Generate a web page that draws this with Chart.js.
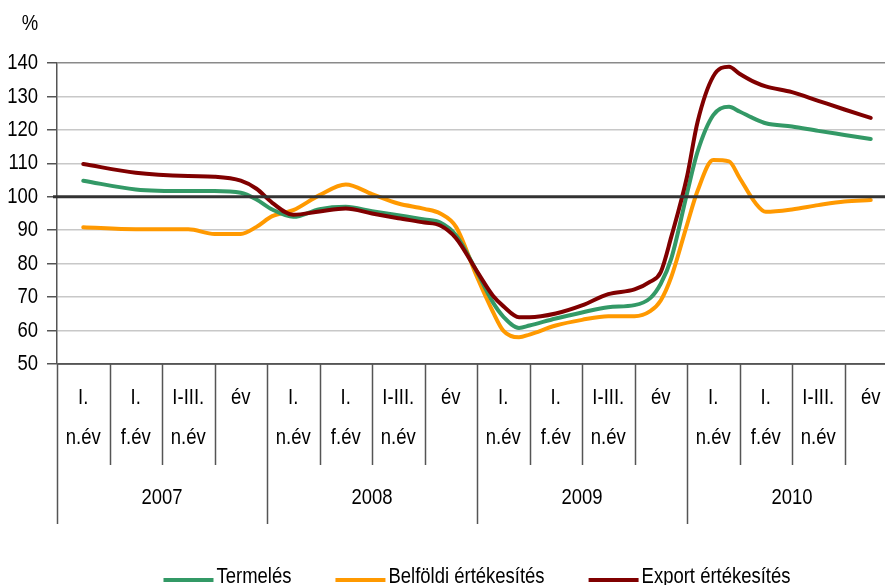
<!DOCTYPE html>
<html lang="hu">
<head>
<meta charset="UTF-8">
<title>Termelés és értékesítés</title>
<script src="https://cdn.jsdelivr.net/npm/chart.js"></script>
<style>
    html, body { margin: 0; padding: 0; background: #fff; overflow: hidden; }
</style>
</head>
<body>
<canvas id="chart" width="900" height="585"></canvas>
<script>
// position on the period axis: 0 = start of 2007 "I. n.év", 16 = end of 2010 "év"
const periods = [0.5, 1.5, 2.5, 3.0, 3.5, 3.8, 4.1, 4.5, 5.0, 5.5, 6.0, 6.5, 7.0, 7.3, 7.6,
    8.0, 8.3, 8.5, 8.8, 9.0, 9.5, 10.0, 10.5, 11.0, 11.3, 11.5, 11.7, 12.0, 12.2, 12.5,
    12.8, 13.0, 13.3, 13.5, 14.0, 14.5, 15.0, 15.5];

const termeles = [104.8, 102.2, 101.7, 101.7, 101.2, 99.2, 96.2, 94.0, 96.3, 97.0, 95.7, 94.5, 93.2, 92.3, 88.5,
    77.5, 68.5, 64.2, 60.8, 61.5, 63.6, 65.4, 67.0, 67.6, 69.7, 74.0, 81.5, 101.0, 113.4, 124.4,
    126.9, 125.5, 123.2, 122.0, 121.0, 119.7, 118.5, 117.3];

const belfoldi = [90.9, 90.3, 90.3, 88.9, 88.9, 91.0, 94.2, 96.0, 100.5, 103.7, 100.8, 98.0, 96.4, 95.0, 91.0,
    76.0, 65.7, 60.0, 58.0, 58.8, 61.5, 63.2, 64.3, 64.3, 65.8, 69.0, 76.0, 91.6, 101.7, 111.0,
    110.6, 105.7, 98.2, 95.5, 96.2, 97.5, 98.6, 99.0];

const exportErt = [109.8, 107.2, 106.2, 106.0, 104.8, 102.4, 98.2, 94.6, 95.6, 96.5, 95.0, 93.6, 92.3, 91.4, 87.6,
    77.7, 70.5, 67.3, 64.0, 64.0, 65.1, 67.5, 70.9, 72.3, 74.6, 77.5, 88.0, 106.0, 122.3, 136.0,
    138.9, 136.8, 134.2, 133.0, 131.3, 128.7, 126.1, 123.6];

const years = ['2007', '2008', '2009', '2010'];
const subLabels = [['I.', 'n.év'], ['I.', 'f.év'], ['I-III.', 'n.év'], ['év', '']];
const seriesNames = ['Termelés', 'Belföldi értékesítés', 'Export értékesítés'];
const seriesColors = ['#339966', '#ff9900', '#800000'];

const FONT = '22px "Liberation Sans", Arial, sans-serif';
const SQUEEZE = 0.84;   // the original uses a narrow face

function points(values) {
    return values.map((v, i) => ({ x: periods[i], y: v }));
}

function narrowText(ctx, text, x, y, align) {
    ctx.save();
    ctx.translate(x, y);
    ctx.scale(SQUEEZE, 1);
    ctx.textAlign = align || 'center';
    ctx.fillText(text, 0, 0);
    ctx.restore();
}

// draws the 100% line, axis labels, grouped period labels and the legend
const decorations = {
    id: 'decorations',
    afterDatasetsDraw(chart) {
        const { ctx, chartArea, scales } = chart;
        const y100 = scales.y.getPixelForValue(100);
        ctx.save();
        ctx.strokeStyle = '#333';
        ctx.lineWidth = 3;
        ctx.beginPath();
        ctx.moveTo(chartArea.left - 4, y100);
        ctx.lineTo(chartArea.right, y100);
        ctx.stroke();
        ctx.restore();
    },
    afterDraw(chart) {
        const { ctx, chartArea, scales } = chart;
        const xs = scales.x, ys = scales.y;
        const base = chartArea.bottom;
        ctx.save();

        // axis + separators
        ctx.strokeStyle = '#555';
        ctx.lineWidth = 1.5;
        ctx.beginPath();
        ctx.moveTo(chartArea.left, base);
        ctx.lineTo(chartArea.right, base);
        for (let i = 0; i <= 16; i++) {
            const x = Math.round(xs.getPixelForValue(i)) + 0.5;
            ctx.moveTo(x, base);
            ctx.lineTo(x, base + (i % 4 === 0 ? 160 : 101));
        }
        ctx.stroke();

        ctx.fillStyle = '#000';
        ctx.font = FONT;
        ctx.textBaseline = 'middle';

        // y tick labels
        ys.ticks.forEach(t => {
            narrowText(ctx, String(t.value), chartArea.left - 19, ys.getPixelForValue(t.value), 'right');
        });

        // period labels
        for (let i = 0; i < 16; i++) {
            const x = xs.getPixelForValue(i + 0.5);
            const lab = subLabels[i % 4];
            narrowText(ctx, lab[0], x, base + 34);
            if (lab[1]) narrowText(ctx, lab[1], x, base + 74);
        }
        years.forEach((yr, k) => {
            narrowText(ctx, yr, xs.getPixelForValue(k * 4 + 2), base + 134);
        });

        // % unit
        narrowText(ctx, '%', 30, 24);

        // legend
        const lineLen = 50, gapText = 3, gapItem = 44;
        const widths = seriesNames.map(n => ctx.measureText(n).width * SQUEEZE);
        const total = widths.reduce((a, w) => a + lineLen + gapText + w, 0) + gapItem * (seriesNames.length - 1);
        let x = (chartArea.left + chartArea.right) / 2 - total / 2;
        const ly = base + 213;
        seriesNames.forEach((n, i) => {
            ctx.strokeStyle = seriesColors[i];
            ctx.lineWidth = 4;
            ctx.beginPath();
            ctx.moveTo(x, ly + 3);
            ctx.lineTo(x + lineLen, ly + 3);
            ctx.stroke();
            x += lineLen + gapText;
            narrowText(ctx, n, x, ly, 'left');
            x += widths[i] + gapItem;
        });
        ctx.restore();
    }
};

const ctx = document.getElementById('chart').getContext('2d');
new Chart(ctx, {
    type: 'line',
    data: {
        datasets: [
            { label: seriesNames[0], data: points(termeles), borderColor: seriesColors[0], order: 2 },
            { label: seriesNames[1], data: points(belfoldi), borderColor: seriesColors[1], order: 3 },
            { label: seriesNames[2], data: points(exportErt), borderColor: seriesColors[2], order: 1 }
        ]
    },
    options: {
        responsive: false,
        animation: false,
        layout: { padding: { top: 63, right: 3, bottom: 221, left: 0 } },
        elements: {
            line: { borderWidth: 4, cubicInterpolationMode: 'monotone', borderCapStyle: 'round', borderJoinStyle: 'round' },
            point: { radius: 0 }
        },
        plugins: { legend: { display: false }, tooltip: { enabled: false } },
        scales: {
            x: { type: 'linear', min: 0, max: 16, display: false },
            y: {
                min: 50,
                max: 140,
                ticks: { stepSize: 10, display: false },
                border: { color: '#555', width: 1.5 },
                grid: {
                    tickLength: 10,
                    tickColor: '#555',
                    lineWidth: 1.5,
                    color: c => c.tick.value === 140 ? '#8a8a8a' : (c.tick.value === 50 ? '#555' : '#c8c8c8')
                },
                afterFit: s => { s.width = 57; }
            }
        }
    },
    plugins: [decorations]
});
</script>
</body>
</html>
